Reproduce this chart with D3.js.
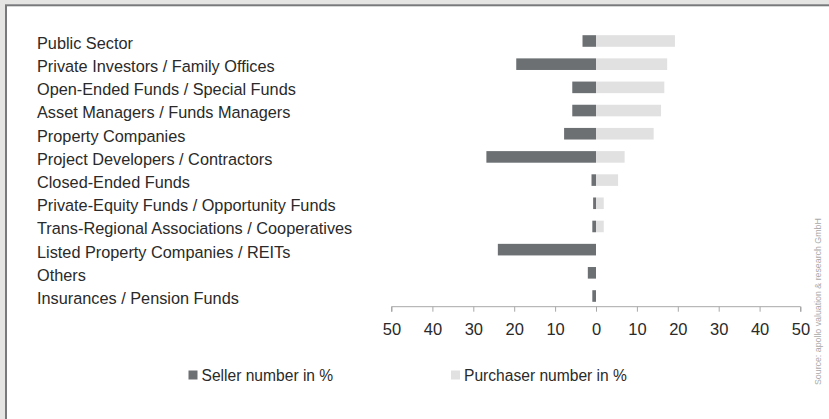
<!DOCTYPE html>
<html><head><meta charset="utf-8">
<script src="https://cdn.jsdelivr.net/npm/d3@7"></script>
<style>html,body{margin:0;padding:0;background:#e5e5e3;}svg{display:block;}</style>
</head><body>
<svg id="c" width="829" height="419"></svg>
<script>
const categories = ["Public Sector","Private Investors / Family Offices","Open-Ended Funds / Special Funds","Asset Managers / Funds Managers","Property Companies","Project Developers / Contractors","Closed-Ended Funds","Private-Equity Funds / Opportunity Funds","Trans-Regional Associations / Cooperatives","Listed Property Companies / REITs","Others","Insurances / Pension Funds"];
const sellerValues = [3.3, 19.5, 5.8, 5.8, 7.8, 26.8, 1.1, 0.7, 0.9, 24.0, 2.0, 0.9];
const purchaserValues = [19.3, 17.4, 16.7, 15.9, 14.1, 7.0, 5.4, 1.9, 1.9, 0, 0, 0];
const tickValues = [-50,-40,-30,-20,-10,0,10,20,30,40,50];
const seriesNames = ["Seller number in %","Purchaser number in %"];
const sourceText = "Source: apollo valuation & research GmbH";

const svg = d3.select("#c");
const font = "'Liberation Sans', Arial, sans-serif";
// panel
svg.append("rect").attr("x",5).attr("y",4.3).attr("width",830).attr("height",420).attr("fill","#77797b");
svg.append("rect").attr("x",7).attr("y",6.3).attr("width",830).attr("height",420).attr("fill","#ffffff");

const x = d3.scaleLinear().domain([-50,50]).range([391.5,800.5]);
const y = d3.scaleBand().domain(categories).range([29.4,307.6]).paddingInner(0.5).paddingOuter(0.25);

const colSeller = "#6c7073", colPurch = "#e1e1e1";

const g = svg.append("g");
g.selectAll("rect.p").data(categories).join("rect").attr("class","p")
  .attr("x", x(0)).attr("y", d=>y(d)).attr("height", y.bandwidth())
  .attr("width", (d,i)=> x(purchaserValues[i]) - x(0)).attr("fill", colPurch);
g.selectAll("rect.s").data(categories).join("rect").attr("class","s")
  .attr("x", (d,i)=> x(-sellerValues[i])).attr("y", d=>y(d)).attr("height", y.bandwidth())
  .attr("width", (d,i)=> x(0) - x(-sellerValues[i])).attr("fill", colSeller);

g.selectAll("text.lab").data(categories).join("text").attr("class","lab")
  .attr("x", 37).attr("y", d=> y(d)+y.bandwidth()/2 + 2).attr("dy","0.36em")
  .attr("font-family", font).attr("font-size", 16.3).attr("fill","#2a2a2a")
  .text(d=>d);

const axis = d3.axisBottom(x).tickValues(tickValues).tickFormat(d=>Math.abs(d)).tickSize(5).tickPadding(12);
const ax = svg.append("g").attr("transform","translate(0,306.7)").call(axis);
ax.select(".domain").attr("stroke","#a8a8a8").attr("d", `M${x(-50)},5V0H${x(50)}V5`);
ax.selectAll(".tick line").attr("stroke","#a8a8a8");
ax.selectAll(".tick text").attr("font-family",font).attr("font-size",16.5).attr("fill","#2a2a2a");

// legend
const leg = [{name:seriesNames[0], col:colSeller, x:188.5},{name:seriesNames[1], col:colPurch, x:451}];
const lg = svg.append("g");
lg.selectAll("rect").data(leg).join("rect").attr("x",d=>d.x).attr("y",370.5).attr("width",9).attr("height",9).attr("fill",d=>d.col);
lg.selectAll("text").data(leg).join("text").attr("x",d=>d.x+13).attr("y",381)
  .attr("font-family",font).attr("font-size",15.6).attr("fill","#2a2a2a").text(d=>d.name);

svg.append("text").attr("transform","translate(821,385) rotate(-90)")
  .attr("font-family",font).attr("font-size",8.8).attr("fill","#a9a9a9").text(sourceText);
</script>
</body></html>
